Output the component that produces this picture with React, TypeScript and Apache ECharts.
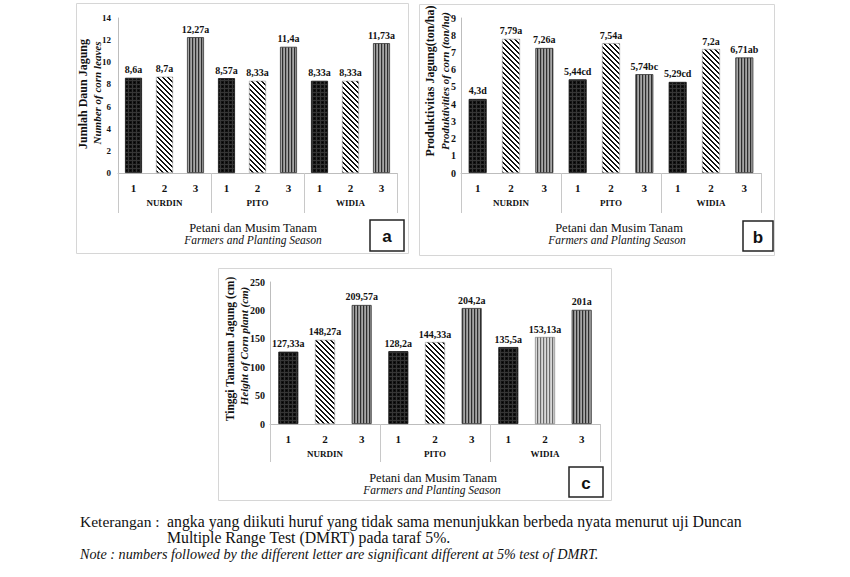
import { useEffect, useRef } from 'react';
import * as echarts from 'echarts';

// ---------- data ----------
const farmers = ['NURDIN', 'PITO', 'WIDIA'];
const seasons = ['1', '2', '3'];

const leavesValues = [8.6, 8.7, 12.27, 8.57, 8.33, 11.4, 8.33, 8.33, 11.73];
const leavesLetters = ['a', 'a', 'a', 'a', 'a', 'a', 'a', 'a', 'a'];

const yieldValues = [4.3, 7.79, 7.26, 5.44, 7.54, 5.74, 5.29, 7.2, 6.71];
const yieldLetters = ['d', 'a', 'a', 'cd', 'a', 'bc', 'cd', 'a', 'ab'];

const heightValues = [127.33, 148.27, 209.57, 128.2, 144.33, 204.2, 135.5, 153.13, 201];
const heightLetters = ['a', 'a', 'a', 'a', 'a', 'a', 'a', 'a', 'a'];

const leavesAxis = { min: 0, max: 14, interval: 2 };
const yieldAxis = { min: 0, max: 9, interval: 1 };
const heightAxis = { min: 0, max: 250, interval: 50 };

const categories = farmers.flatMap((f) => seasons.map((s) => f + ' ' + s));

// ---------- styles ----------
const SERIF = '"Liberation Serif", "Times New Roman", serif';

function makeCanvas(w: number, h: number, fn: (x: number, y: number) => string) {
  const c = document.createElement('canvas');
  c.width = w;
  c.height = h;
  const ctx = c.getContext('2d')!;
  for (let y = 0; y < h; y++) {
    for (let x = 0; x < w; x++) {
      ctx.fillStyle = fn(x, y);
      ctx.fillRect(x, y, 1, 1);
    }
  }
  return c;
}

function buildPatterns() {
  const checker = makeCanvas(4, 4, (x, y) => {
    if (x === 0 || y === 0) return '#363636';
    if (x === 2 && y === 2) return '#000000';
    return '#121212';
  });
  const diag = makeCanvas(5, 5, (x, y) => (((x - y) % 5 + 5) % 5 < 2 ? '#111111' : '#ffffff'));
  const vert = makeCanvas(3, 1, (x) => (x === 0 ? '#2e2e2e' : x === 1 ? '#8c8c8c' : '#a6a6a6'));
  const vertLight = makeCanvas(3, 1, (x) => (x === 0 ? '#6a6a6a' : x === 1 ? '#c4c4c4' : '#d8d8d8'));
  const pat = (c: HTMLCanvasElement) => ({ image: c, repeat: 'repeat', imageWidth: c.width, imageHeight: c.height });
  return {
    checker: { color: pat(checker), borderColor: '#111', borderWidth: 0.8 },
    diag: { color: pat(diag), borderColor: '#9a9a9a', borderWidth: 0.6 },
    vert: { color: pat(vert), borderColor: '#333', borderWidth: 0.8 },
    vertLight: { color: pat(vertLight), borderColor: '#777', borderWidth: 0.6 },
  };
}

const fmt = (v: number) => String(v).replace('.', ',');

type Panel = {
  values: number[];
  letters: string[];
  axis: { min: number; max: number; interval: number };
  grid: { left: number; top: number; width: number; height: number };
  barWidth: number;
  yLabelMargin: number;
  yLabelSize: number;
  sepLength: number;
  overrides?: Record<number, string>;
};

export default function App() {
  const ref = useRef<HTMLDivElement>(null);

  useEffect(() => {
    if (!ref.current) return;
    const chart = echarts.init(ref.current, undefined, { renderer: 'svg' });
    const P = buildPatterns() as any;
    const seasonStyle = ['checker', 'diag', 'vert'];

    const panels: Panel[] = [
      {
        values: leavesValues, letters: leavesLetters, axis: leavesAxis,
        grid: { left: 118, top: 18, width: 279, height: 155 },
        barWidth: 17, yLabelMargin: 7, yLabelSize: 9, sepLength: 40,
      },
      {
        values: yieldValues, letters: yieldLetters, axis: yieldAxis,
        grid: { left: 461, top: 18, width: 300, height: 155 },
        barWidth: 18, yLabelMargin: 5, yLabelSize: 10, sepLength: 40,
      },
      {
        values: heightValues, letters: heightLetters, axis: heightAxis,
        grid: { left: 270, top: 282, width: 330, height: 142 },
        barWidth: 20, yLabelMargin: 5, yLabelSize: 10, sepLength: 38,
        overrides: { 7: 'vertLight' },
      },
    ];

    const grids: any[] = [];
    const xAxes: any[] = [];
    const yAxes: any[] = [];
    const series: any[] = [];

    panels.forEach((p, gi) => {
      grids.push({ ...p.grid, containLabel: false });
      xAxes.push({
        type: 'category', gridIndex: gi, position: 'bottom', offset: 0,
        data: categories,
        axisLine: { show: true, lineStyle: { color: '#bdbdbd', width: 1 } },
        axisTick: { show: false },
        axisLabel: {
          interval: 0, margin: 9,
          formatter: (_v: string, i: number) => seasons[i % seasons.length],
          fontFamily: SERIF, fontWeight: 'bold', fontSize: 11, color: '#111',
        },
        splitLine: { show: false },
      });
      xAxes.push({
        type: 'category', gridIndex: gi, position: 'bottom', offset: 0,
        data: farmers,
        axisLine: { show: false },
        axisTick: { show: true, length: p.sepLength, lineStyle: { color: '#c8c8c8', width: 1 } },
        axisLabel: {
          interval: 0, margin: 25,
          fontFamily: SERIF, fontWeight: 'bold', fontSize: 9, color: '#111',
        },
        splitLine: { show: false },
      });
      yAxes.push({
        type: 'value', gridIndex: gi,
        min: p.axis.min, max: p.axis.max, interval: p.axis.interval,
        axisLine: { show: true, lineStyle: { color: '#bdbdbd', width: 1 } },
        axisTick: { show: false },
        splitLine: { show: false },
        axisLabel: {
          margin: p.yLabelMargin, fontFamily: SERIF, fontWeight: 'bold', fontSize: p.yLabelSize, color: '#111',
        },
      });
      series.push({
        type: 'bar',
        xAxisIndex: gi * 2, yAxisIndex: gi,
        barWidth: p.barWidth,
        data: p.values.map((v, i) => ({
          value: v,
          itemStyle: P[(p.overrides && p.overrides[i]) || seasonStyle[i % 3]],
        })),
        label: {
          show: true, position: 'top', distance: 3,
          fontFamily: SERIF, fontWeight: 'bold', fontSize: 10, color: '#111',
          formatter: (q: any) => fmt(p.values[q.dataIndex]) + p.letters[q.dataIndex],
        },
      });
    });

    const text = (x: number, y: number, t: string, o: any = {}) => ({
      type: 'text', x, y, rotation: o.rotation || 0, z: 10,
      style: {
        text: t, fill: o.fill || '#111',
        fontFamily: o.fontFamily || SERIF,
        fontSize: o.fontSize || 12,
        fontWeight: o.fontWeight || 'normal',
        fontStyle: o.fontStyle || 'normal',
        align: o.align || 'center', verticalAlign: 'middle',
      },
    });
    const frame = (x: number, y: number, w: number, h: number) => ({
      type: 'rect', z: -1, shape: { x, y, width: w, height: h },
      style: { fill: 'none', stroke: '#d6d6d6', lineWidth: 1 },
    });
    const box = (x: number, y: number, w: number, h: number, t: string) => [
      { type: 'rect', z: 10, shape: { x, y, width: w, height: h }, style: { fill: '#fff', stroke: '#222', lineWidth: 1.5 } },
      text(x + w / 2, y + h / 2 + 1, t, { fontFamily: '"Liberation Sans", Arial, sans-serif', fontSize: 17, fontWeight: 'bold' }),
    ];
    const R = Math.PI / 2;

    const graphic: any[] = [
      frame(76.5, 3.5, 332, 250),
      frame(419.5, 4.5, 355, 251),
      frame(218.5, 268.5, 393, 232),
      // panel a
      text(83, 94, 'Jumlah Daun Jagung', { rotation: R, fontWeight: 'bold', fontSize: 12 }),
      text(97, 93, 'Number of corn leaves', { rotation: R, fontStyle: 'italic', fontWeight: 'bold', fontSize: 11 }),
      text(253, 228, 'Petani dan Musim Tanam', { fontSize: 12.5 }),
      text(253, 240, 'Farmers and Planting Season', { fontSize: 11.5, fontStyle: 'italic' }),
      ...box(370, 220, 34, 31, 'a'),
      // panel b
      text(430, 81, 'Produktivitas Jagung(ton/ha)', { rotation: R, fontWeight: 'bold', fontSize: 12 }),
      text(445, 81, 'Produktivities of corn (ton/ha)', { rotation: R, fontStyle: 'italic', fontWeight: 'bold', fontSize: 11 }),
      text(619, 228, 'Petani dan Musim Tanam', { fontSize: 12.5 }),
      text(617, 240, 'Farmers and Planting Season', { fontSize: 11.5, fontStyle: 'italic' }),
      ...box(743, 221, 30, 30, 'b'),
      // panel c
      text(230, 349, 'Tinggi Tanaman Jagung (cm)', { rotation: R, fontWeight: 'bold', fontSize: 11.5 }),
      text(244, 346, 'Height of Corn plant (cm)', { rotation: R, fontStyle: 'italic', fontWeight: 'bold', fontSize: 11 }),
      text(433, 478, 'Petani dan Musim Tanam', { fontSize: 12.5 }),
      text(432, 490, 'Farmers and Planting Season', { fontSize: 11.5, fontStyle: 'italic' }),
      ...box(569, 467, 34, 30, 'c'),
      // note
      text(80, 521, 'Keterangan :', { align: 'left', fontSize: 15.5 }),
      text(167, 521, 'angka yang diikuti huruf yang tidak sama menunjukkan berbeda nyata menurut uji Duncan', { align: 'left', fontSize: 15.8 }),
      text(167, 537, 'Multiple Range Test (DMRT) pada taraf 5%.', { align: 'left', fontSize: 15.8 }),
      text(80, 554, 'Note : numbers followed by the different letter are significant different at 5% test of DMRT.', { align: 'left', fontSize: 14.2, fontStyle: 'italic' }),
    ];

    chart.setOption({
      animation: false,
      backgroundColor: '#ffffff',
      grid: grids,
      xAxis: xAxes,
      yAxis: yAxes,
      series,
      graphic,
    });

    return () => chart.dispose();
  }, []);

  return (
    <div
      ref={ref}
      style={{ position: 'absolute', left: 0, top: 0, width: 850, height: 577, background: '#fff' }}
    />
  );
}
